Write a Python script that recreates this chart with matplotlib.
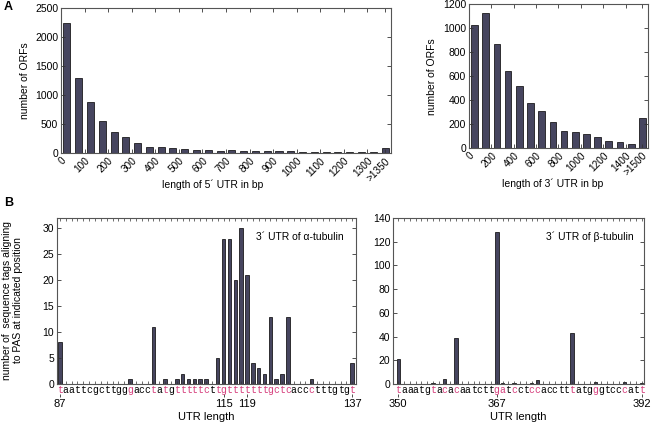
import numpy as np
import matplotlib
matplotlib.use('Agg')
import matplotlib.pyplot as plt

plt.rcParams['font.family'] = ['Liberation Sans', 'DejaVu Sans']

# ---------------- data ----------------
# Panel A left: 5' UTR length histogram (bins of 50 bp, last bin = >1350)
utr5_bin_width = 50
utr5_counts = [2250, 1300, 880, 545, 360, 270, 165, 112, 97, 92, 65, 47,
               45, 42, 45, 40, 42, 40, 35, 28, 25, 22, 22, 18, 12, 15, 10, 90]
utr5_tick_values = [0, 100, 200, 300, 400, 500, 600, 700, 800, 900, 1000, 1100, 1200, 1300]
utr5_overflow_label = '>1350'

# Panel A right: 3' UTR length histogram (bins of 100 bp, last bin = >1500)
utr3_bin_width = 100
utr3_counts = [1030, 1125, 870, 644, 519, 375, 311, 217, 145, 136, 117, 92, 61, 50, 33, 250]
utr3_tick_values = [0, 200, 400, 600, 800, 1000, 1200, 1400]
utr3_overflow_label = '>1500'

# Panel B left: alpha-tubulin 3' UTR, positions 87..137
alpha_start = 87
alpha_seq = "taattcgcttgggacctatgtttttcttgtttttttgctcaccctttgtgt"
alpha_counts = [8, 0, 0, 0, 0, 0, 0, 0, 0, 0, 0, 0, 1, 0, 0, 0, 11, 0, 1, 0,
                1, 2, 1, 1, 1, 1, 0, 5, 28, 28, 20, 30, 21, 4, 3, 2, 13, 1, 2, 13,
                0, 0, 0, 1, 0, 0, 0, 0, 0, 0, 4]
alpha_labeled = [87, 115, 119, 137]

# Panel B right: beta-tubulin 3' UTR, positions 350..392
beta_start = 350
beta_seq = "taaatgtacacaatcttgatcctccacctttatgggtcccatt"
beta_counts = [21, 0, 0, 0, 0, 0, 1, 0, 4, 0, 39, 0, 0, 0, 0, 0, 0, 128, 1, 0,
               1, 0, 0, 1, 3, 0, 0, 0, 0, 0, 43, 0, 0, 0, 2, 0, 0, 0, 0, 2,
               0, 0, 1]
beta_labeled = [350, 367, 392]

# ---------------- style ----------------
bar_color = '#46455f'
pink = '#d63f7d'
spine_color = '#555555'
fs = 7.5

fig = plt.figure(figsize=(6.52, 4.26), dpi=100)


def style(ax):
    for s in ax.spines.values():
        s.set_linewidth(0.8)
        s.set_color(spine_color)
    ax.tick_params(direction='in', top=True, right=True, length=3, width=0.6,
                   labelsize=fs, pad=2, color='#333333')


# ---- A left ----
ax1 = fig.add_axes([0.0936, 0.6408, 0.506, 0.3404])
c5 = np.arange(len(utr5_counts)) * utr5_bin_width + utr5_bin_width / 2
ax1.bar(c5, utr5_counts, width=0.6 * utr5_bin_width, color=bar_color,
        edgecolor='black', linewidth=0.5)
ax1.set_xlim(0, len(utr5_counts) * utr5_bin_width)
ax1.set_ylim(0, 2500)
ax1.set_yticks(np.arange(0, 2501, 500))
style(ax1)
ax1.set_xticks(list(utr5_tick_values) + [c5[-1]])
ax1.set_xticklabels([str(v) for v in utr5_tick_values] + [utr5_overflow_label],
                    rotation=45, ha='right', va='top', rotation_mode='anchor', fontsize=7.2)
ax1.set_ylabel('number of ORFs', fontsize=fs, labelpad=4)
ax1.set_xlabel('length of 5\u00b4 UTR in bp', fontsize=fs)
ax1.xaxis.set_label_coords(0.458, -0.18)

# ---- A right ----
ax2 = fig.add_axes([0.7193, 0.6526, 0.2745, 0.3369])
c3 = np.arange(len(utr3_counts)) * utr3_bin_width + utr3_bin_width / 2
ax2.bar(c3, utr3_counts, width=0.6 * utr3_bin_width, color=bar_color,
        edgecolor='black', linewidth=0.5)
ax2.set_xlim(0, len(utr3_counts) * utr3_bin_width)
ax2.set_ylim(0, 1200)
ax2.set_yticks(np.arange(0, 1201, 200))
style(ax2)
ax2.set_xticks(list(utr3_tick_values) + [c3[-1]])
ax2.set_xticklabels([str(v) for v in utr3_tick_values] + [utr3_overflow_label],
                    rotation=45, ha='right', va='top', rotation_mode='anchor', fontsize=7.2)
ax2.set_ylabel('number of ORFs', fontsize=fs, labelpad=4)
ax2.set_xlabel('length of 3\u00b4 UTR in bp', fontsize=fs)
ax2.xaxis.set_label_coords(0.47, -0.215)


def seq_panel(rect, start, seq, counts, labeled, ylim, ystep, xlim, title):
    ax = fig.add_axes(rect)
    pos = np.arange(start, start + len(counts))
    ax.bar(pos, counts, width=0.6, color=bar_color, edgecolor='black', linewidth=0.5)
    ax.set_xlim(*xlim)
    ax.set_ylim(0, ylim)
    ax.set_yticks(np.arange(0, ylim + 1, ystep))
    style(ax)
    ax.set_xticks(pos)
    ax.set_xticklabels([])
    ax.tick_params(axis='x', length=2, width=0.5)
    tr = ax.get_xaxis_transform()
    for p, ch, v in zip(pos, seq, counts):
        ax.text(p, -0.008, ch, transform=tr, ha='center', va='top', fontsize=7,
                family='Liberation Mono', color=pink if v > 0 else 'black')
    sec = ax.secondary_xaxis(-0.058)
    sec.set_xticks(labeled)
    sec.set_xticklabels([str(v) for v in labeled])
    sec.tick_params(direction='out', length=2.5, width=0.6, labelsize=8, pad=1.5,
                    color='#333333')
    for s in sec.spines.values():
        s.set_visible(False)
    sec.set_xlabel('UTR length', fontsize=8, labelpad=2)
    ax.text(0.96, 0.886, title, transform=ax.transAxes, ha='right', va='center',
            fontsize=fs)
    return ax


ax3 = seq_panel([0.0874, 0.0986, 0.4586, 0.3897], alpha_start, alpha_seq, alpha_counts,
                alpha_labeled, 32, 5, (86.5, 137.65), '3\u00b4 UTR of \u03b1-tubulin')
ax4 = seq_panel([0.6028, 0.0986, 0.385, 0.3897], beta_start, beta_seq, beta_counts,
                beta_labeled, 140, 20, (349.1, 392.4), '3\u00b4 UTR of \u03b2-tubulin')

fig.text(0.019, 1 - 300 / 426, 'number of  sequence tags aligning\nto PAS at indicated position',
         rotation=90, ha='center', va='center', fontsize=fs, multialignment='center')

fig.text(0.006, 0.997, 'A', fontsize=9, fontweight='bold', va='top', ha='left')
fig.text(0.006, 1 - 197 / 426, 'B', fontsize=9, fontweight='bold', va='top', ha='left')

fig.savefig('out.png', dpi=100)
